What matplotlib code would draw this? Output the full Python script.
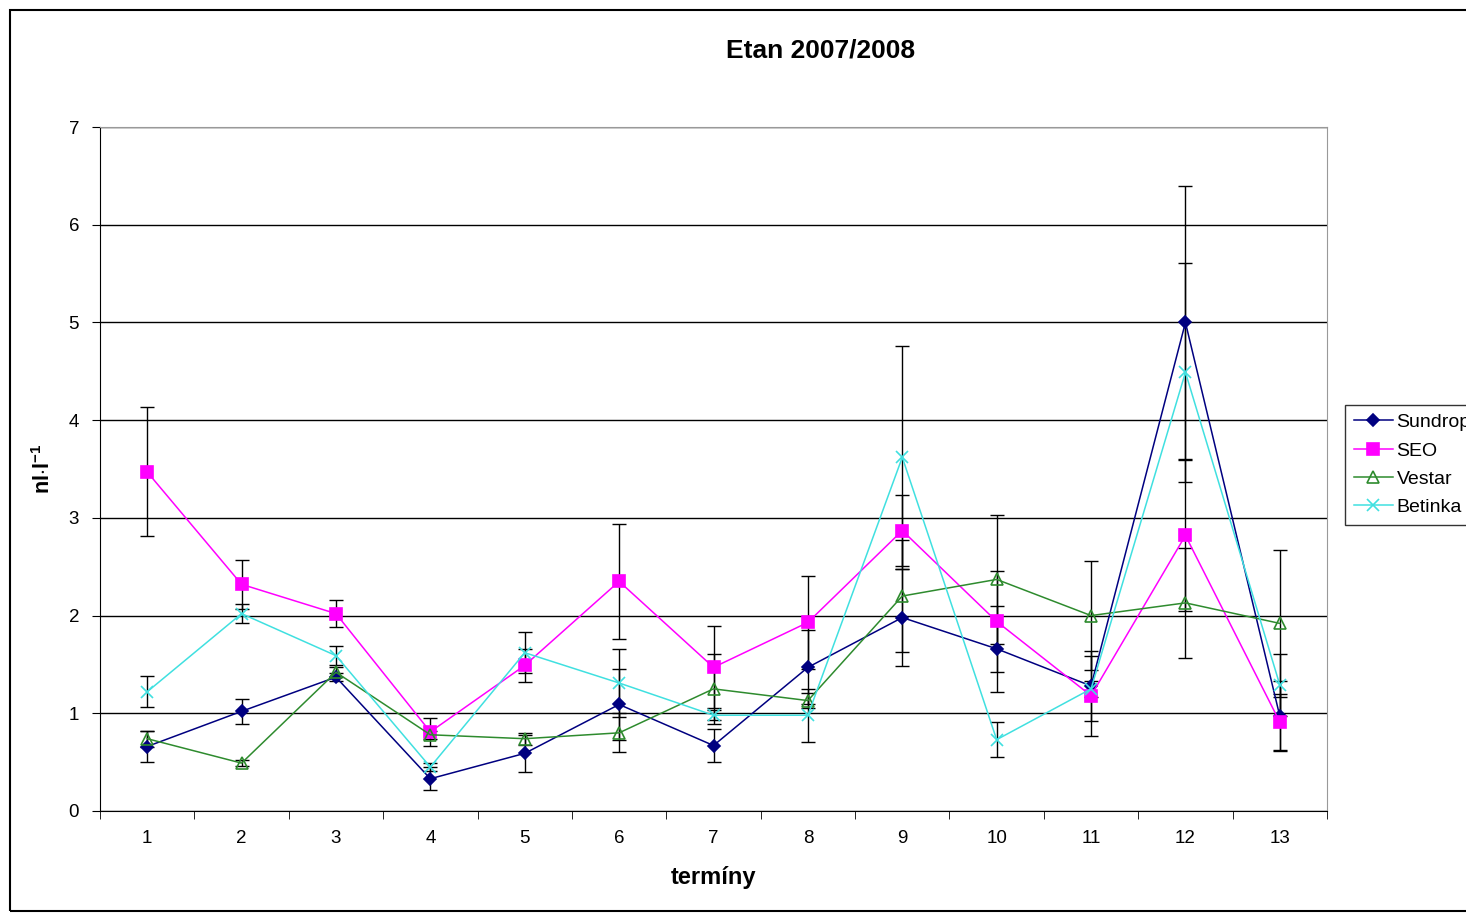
import numpy as np
import matplotlib.pyplot as plt
from matplotlib.patches import Rectangle

plt.rcParams['font.family'] = ['Liberation Sans', 'DejaVu Sans']
plt.rcParams['mathtext.fontset'] = 'custom'
plt.rcParams['mathtext.rm'] = 'Liberation Sans'
plt.rcParams['mathtext.bf'] = 'Liberation Sans:bold'

# terms and mean ethane concentrations with their errors
terminy = np.arange(1, 14)

sundrop = [0.66, 1.02, 1.37, 0.33, 0.59, 1.09, 0.67, 1.47, 1.98, 1.66, 1.28, 5.00, 0.97]
sundrop_err = [0.16, 0.13, 0.04, 0.12, 0.19, 0.36, 0.17, 0.38, 0.50, 0.44, 0.36, 1.40, 0.36]

seo = [3.47, 2.32, 2.02, 0.81, 1.49, 2.35, 1.47, 1.93, 2.87, 1.94, 1.18, 2.82, 0.91]
seo_err = [0.66, 0.25, 0.14, 0.14, 0.17, 0.59, 0.42, 0.48, 0.36, 0.52, 0.41, 0.77, 0.29]

vestar = [0.74, 0.49, 1.42, 0.78, 0.74, 0.80, 1.25, 1.13, 2.20, 2.37, 2.00, 2.13, 1.92]
vestar_err = [0.08, 0.03, 0.05, 0.04, 0.06, 0.20, 0.36, 0.08, 0.57, 0.66, 0.56, 0.56, 0.75]

betinka = [1.22, 2.02, 1.59, 0.45, 1.62, 1.31, 0.98, 0.98, 3.62, 0.73, 1.25, 4.49, 1.29]
betinka_err = [0.16, 0.10, 0.10, 0.04, 0.21, 0.35, 0.05, 0.27, 1.14, 0.18, 0.08, 1.12, 0.32]

fig = plt.figure(figsize=(14.66, 9.14), dpi=100)
ax = fig.add_axes([0.0682, 0.1127, 0.8370, 0.7483])

# series: name, values, errors, colour, marker, marker face, marker size
series = [
    ('Sundrop', sundrop, sundrop_err, '#000080', 'D', '#000080', 6),
    ('SEO', seo, seo_err, '#FF00FF', 's', '#FF00FF', 9),
    ('Vestar', vestar, vestar_err, '#2E8B2E', '^', 'none', 8),
    ('Betinka', betinka, betinka_err, '#40E0E0', 'x', '#40E0E0', 8),
]

for name, vals, errs, col, mk, face, ms in series:
    ax.errorbar(terminy, vals, yerr=errs, fmt='none', ecolor='black',
                elinewidth=1.0, capsize=5, capthick=1.0, zorder=2)
    ax.plot(terminy, vals, color=col, lw=1.1, marker=mk, markersize=ms,
            markerfacecolor=face, markeredgecolor=col, markeredgewidth=1.2,
            label=name, zorder=3)

ax.set_xlim(0.5, 13.5)
ax.set_ylim(0, 7)
ax.set_yticks(range(0, 8))
ax.set_xticks(terminy)
ax.set_xticks(np.arange(0.5, 14.0, 1.0), minor=True)
ax.tick_params(axis='x', which='major', length=0, labelsize=13.5, pad=14)
ax.tick_params(axis='x', which='minor', length=6, direction='out', color='black')
ax.tick_params(axis='y', length=6, direction='out', labelsize=13.5, pad=9)

ax.grid(axis='y', color='black', lw=1.0)
ax.set_axisbelow(True)
ax.spines['top'].set_color('#999999')
ax.spines['right'].set_color('#999999')
ax.spines['left'].set_color('black')
ax.spines['bottom'].set_color('black')

ax.set_xlabel('termíny', fontsize=17, fontweight='bold')
ax.xaxis.set_label_coords(0.5, -0.081)
ax.set_ylabel(r'nl$\cdot$l$^{\mathbf{-1}}$', fontsize=15.5, fontweight='bold')
ax.yaxis.set_label_coords(-0.037, 0.5)

fig.text(0.5595, 0.945, 'Etan 2007/2008', ha='center', va='center',
         fontsize=19, fontweight='bold')

leg = ax.legend(loc='upper left', bbox_to_anchor=(0.9175, 0.557),
                bbox_transform=fig.transFigure, fontsize=14, frameon=True,
                fancybox=False, edgecolor='black', handlelength=2.0,
                handletextpad=0.2, borderpad=0.45, labelspacing=0.55,
                borderaxespad=0)
leg.get_frame().set_linewidth(1.0)

# outer chart frame
fig.add_artist(Rectangle((0.0068, 0.003), 1.2, 0.986, transform=fig.transFigure,
                         fill=False, edgecolor='black', lw=1.5))

fig.savefig('out.png', dpi=100)
